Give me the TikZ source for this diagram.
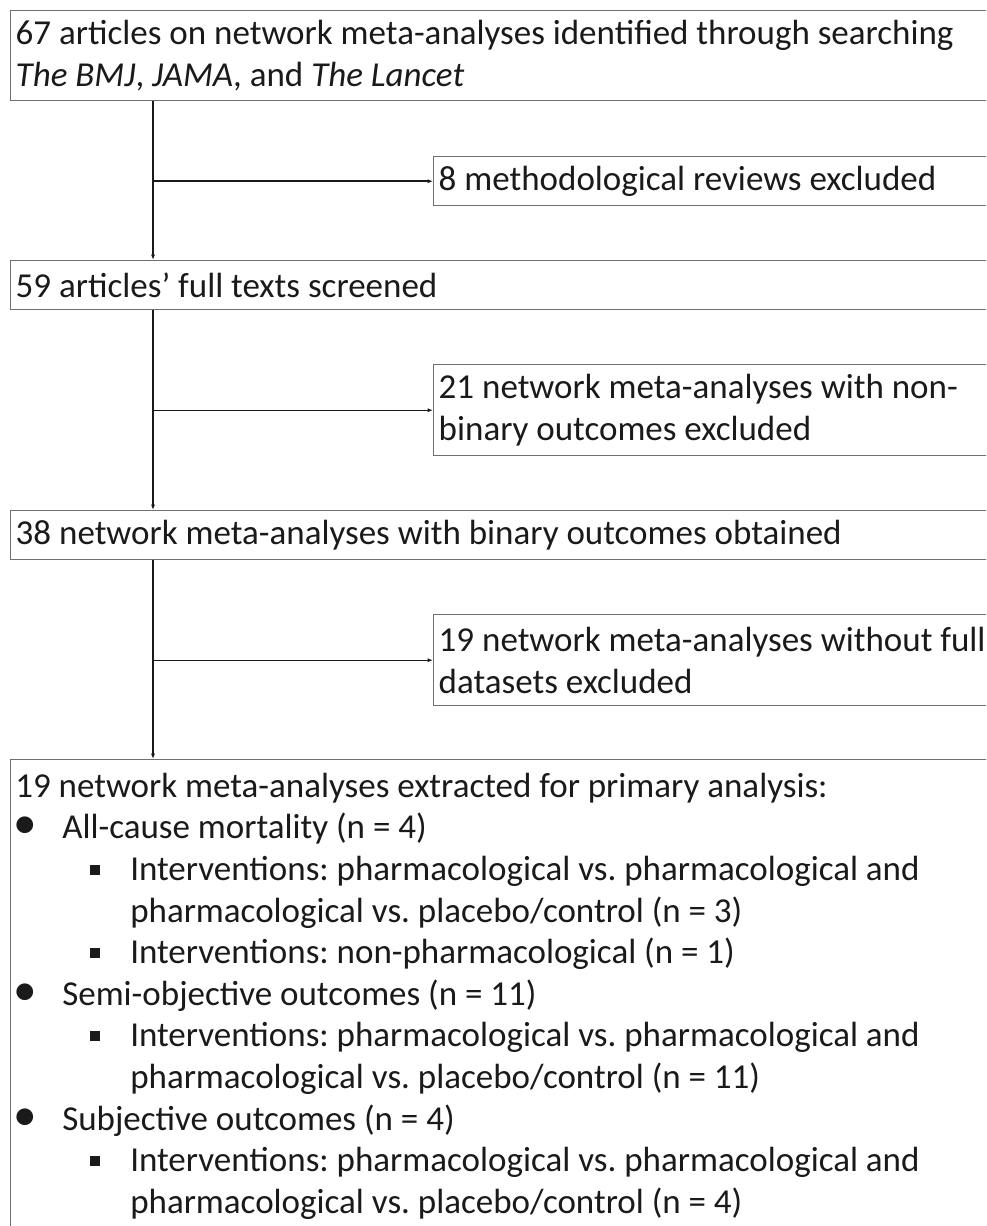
\documentclass[tikz,border=0pt]{standalone}
\usepackage{graphicx}
\usepackage{fontspec}
\setmainfont{Carlito}
\usetikzlibrary{arrows.meta}
\newdimen\px \px=0.75pt
\definecolor{boxgray}{HTML}{707070}
\definecolor{ink}{HTML}{1A1A1A}
\newcommand{\bitem}[1]{\makebox[47\px][l]{\makebox[20\px][c]{\scalebox{1.35}{•}}}#1}
\newcommand{\sitem}[1]{\hspace*{75\px}\raisebox{5.5\px}{\rule{10\px}{10\px}}\hspace*{30\px}#1}
\newcommand{\scont}[1]{\hspace*{115\px}#1}
\begin{document}
\begin{tikzpicture}[x=0.75pt,y=-0.75pt,
  every node/.style={font=\fontsize{26.25pt}{31.2pt}\selectfont, text=ink},
  txt/.style={execute at begin node={\raggedright\frenchspacing\spaceskip=0pt\xspaceskip=0pt\relax}},
  mainbox/.style={txt, draw=boxgray, line width=1.1pt, rectangle, anchor=north west,
    inner xsep=3.75pt, inner ysep=0pt, text width=735pt},
  sidebox/.style={txt, draw=boxgray, line width=1.1pt, rectangle, anchor=north west,
    inner xsep=3.75pt, inner ysep=0pt, text width=417.75pt},
  conn/.style={draw=ink, line width=1.1pt},
  arr/.style={conn, -{Latex[length=4pt,width=3pt]}}]
\useasboundingbox (0,0) rectangle (986,1226);
\clip (0,0) rectangle (986,1226);
\fill[white] (0,0) rectangle (986,1226);

\node[mainbox, minimum height=67.5pt] (b1) at (10,10)
  {67 articles on network meta-analyses identified through searching\\
   \textit{The BMJ}, \textit{JAMA}, and \textit{The Lancet}};
\node[sidebox, minimum height=36.75pt] (s1) at (433,156)
  {8 methodological reviews excluded};
\node[mainbox, minimum height=36.75pt] (b2) at (10,260)
  {59 articles’ full texts screened};
\node[sidebox, minimum height=68.25pt] (s2) at (433,364)
  {21 network meta-analyses with non-\\binary outcomes excluded};
\node[mainbox, minimum height=36.75pt] (b3) at (10,510)
  {38 network meta-analyses with binary outcomes obtained};
\node[sidebox, minimum height=68.25pt] (s3) at (433,614)
  {19 network meta-analyses without full\\datasets excluded};
\node[draw=boxgray, line width=1.1pt, rectangle, anchor=north west,
  minimum width=742.5pt, minimum height=450pt, inner sep=0pt] (b5) at (10,759) {};
\node[txt, anchor=north west, inner xsep=3.75pt, inner ysep=0pt, text width=720pt] (t5) at (10,768)
  {\strut 19 network meta-analyses extracted for primary analysis:\\
   \bitem{All-cause mortality (n = 4)}\\
   \sitem{Interventions: pharmacological vs. pharmacological and}\\
   \scont{pharmacological vs. placebo/control (n = 3)}\\
   \sitem{Interventions: non-pharmacological (n = 1)}\\
   \bitem{Semi-objective outcomes (n = 11)}\\
   \sitem{Interventions: pharmacological vs. pharmacological and}\\
   \scont{pharmacological vs. placebo/control (n = 11)}\\
   \bitem{Subjective outcomes (n = 4)}\\
   \sitem{Interventions: pharmacological vs. pharmacological and}\\
   \scont{pharmacological vs. placebo/control (n = 4)}};

\coordinate (vx) at (153,0);
\draw[arr] (b1.south -| vx) -- (b2.north -| vx);
\draw[arr] (b2.south -| vx) -- (b3.north -| vx);
\draw[arr] (b3.south -| vx) -- (b5.north -| vx);
\draw[arr] (vx |- s1.west) -- (s1.west);
\draw[arr] (vx |- s2.west) -- (s2.west);
\draw[arr] (vx |- s3.west) -- (s3.west);
\end{tikzpicture}
\end{document}
